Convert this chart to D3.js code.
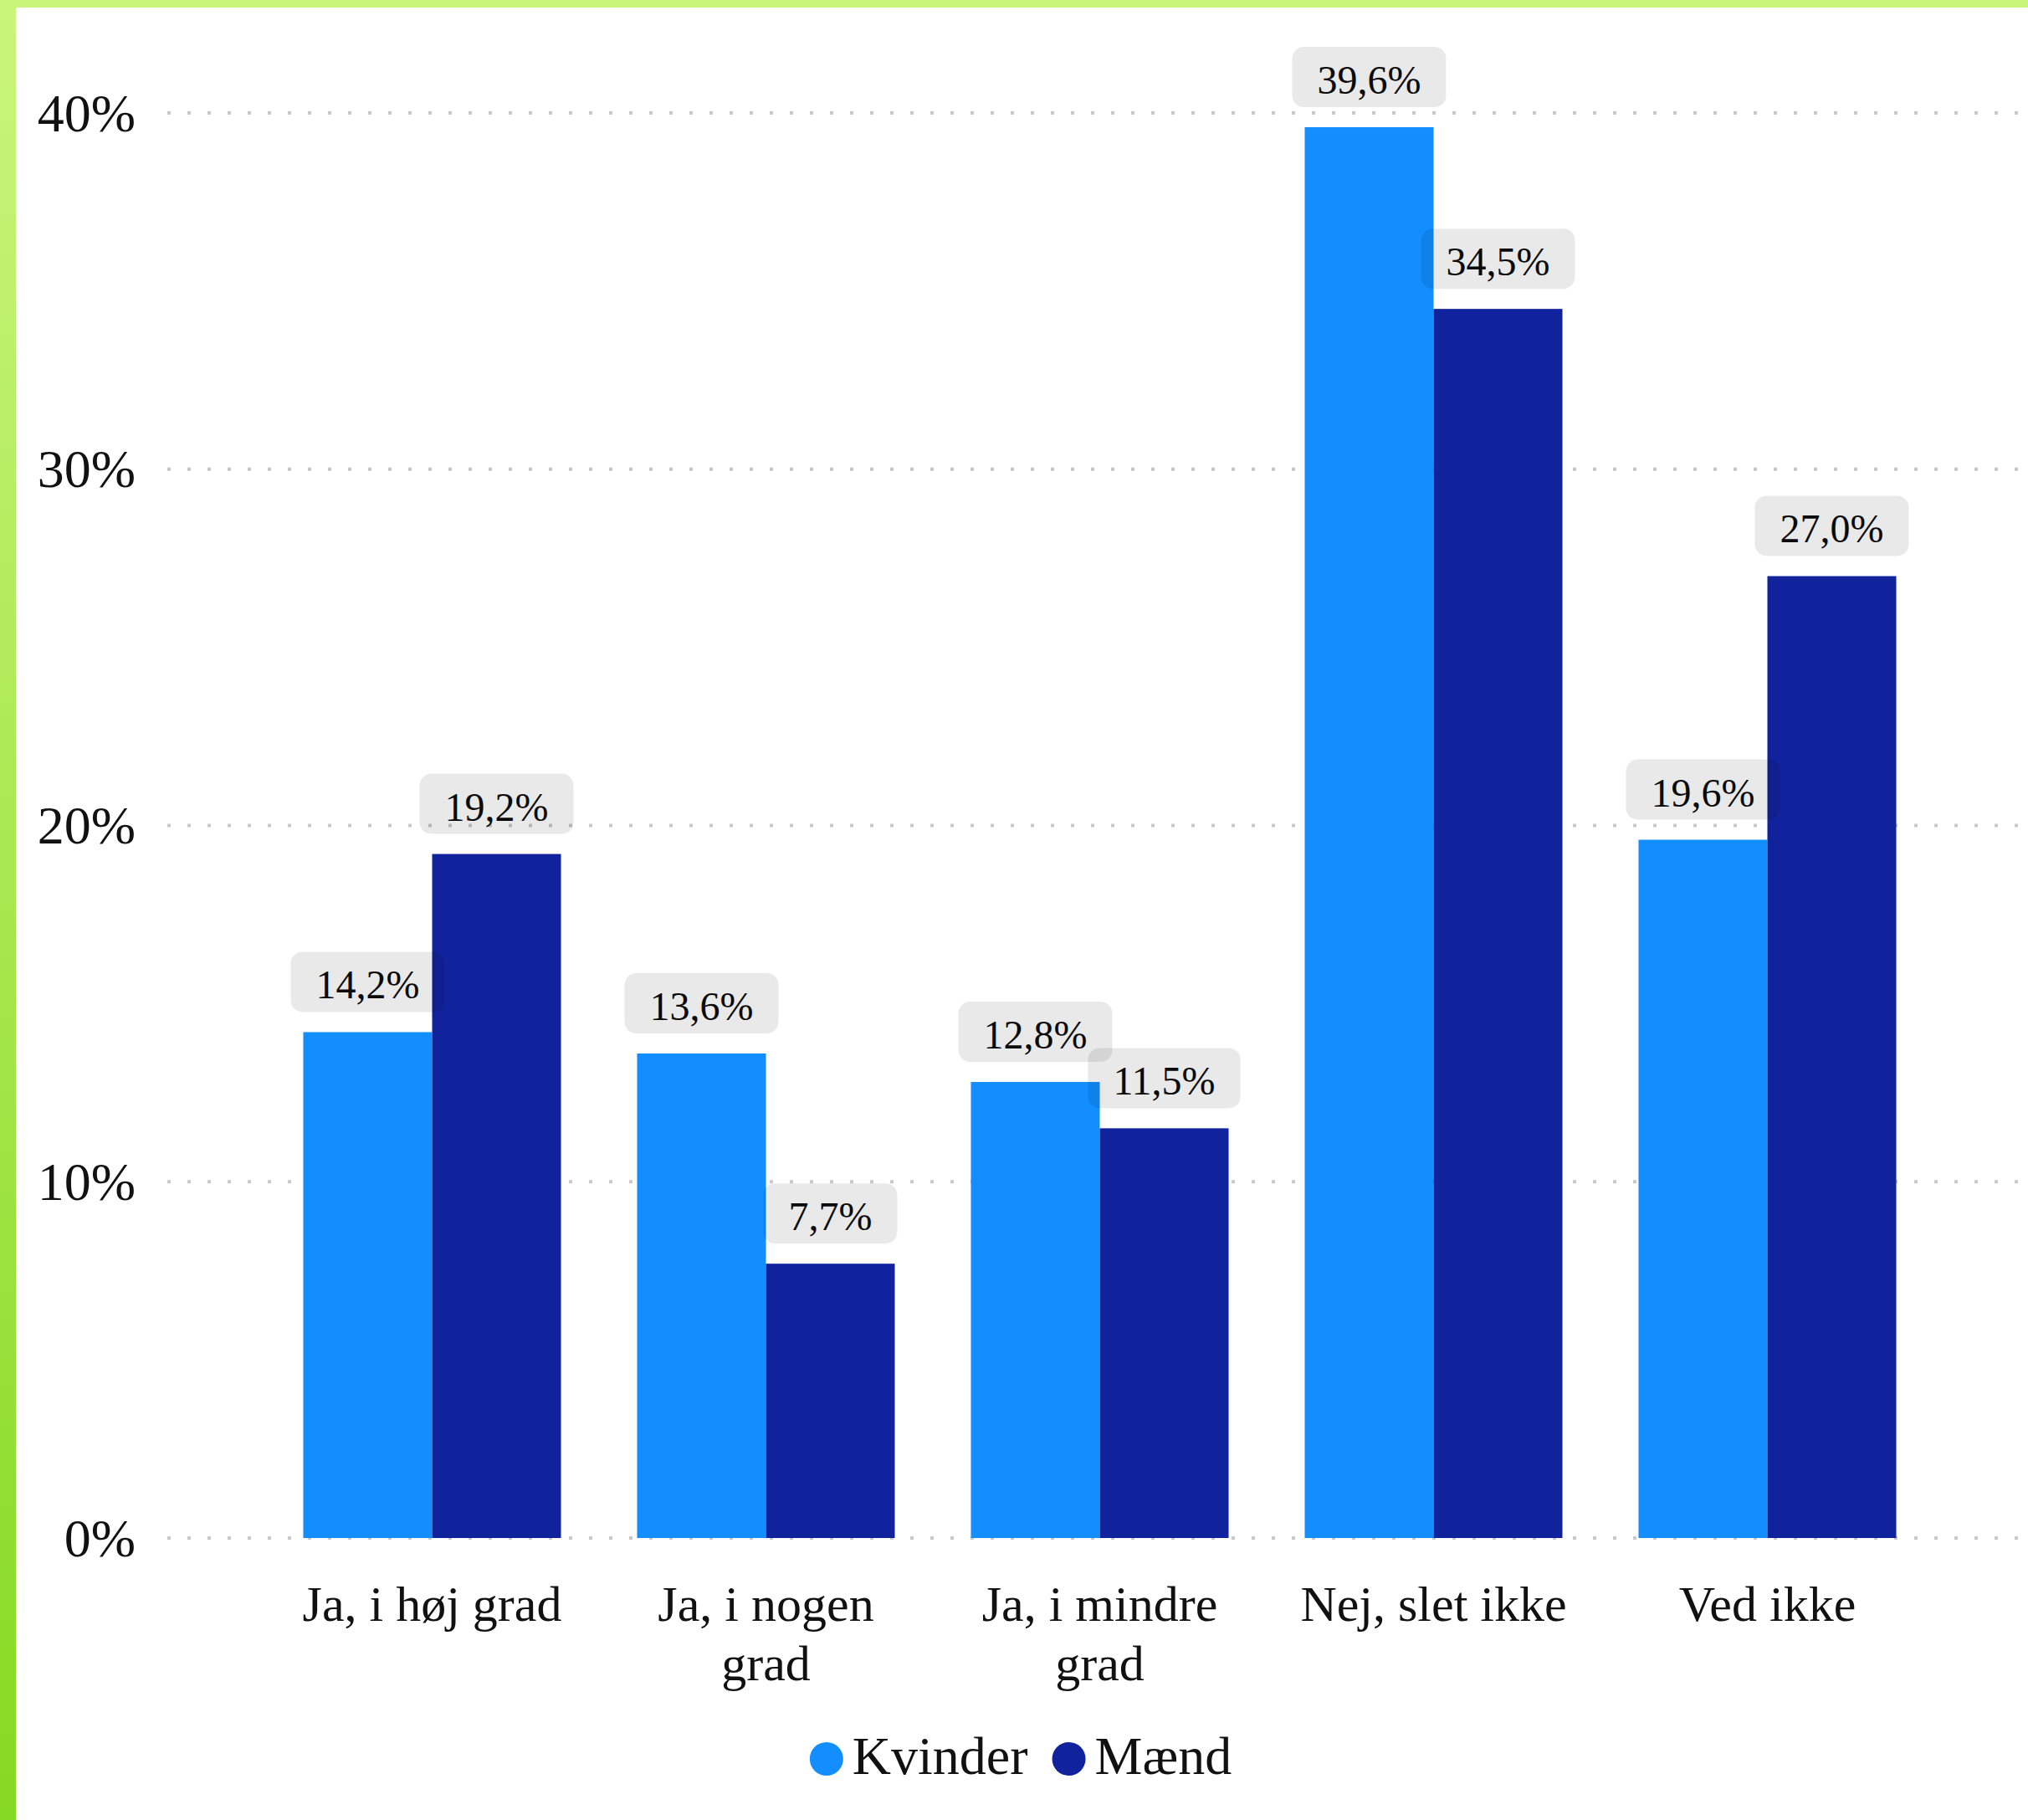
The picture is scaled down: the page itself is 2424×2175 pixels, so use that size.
<!DOCTYPE html>
<html>
<head>
<meta charset="utf-8">
<script src="https://cdn.jsdelivr.net/npm/d3@7"></script>
<style>
  html, body { margin: 0; padding: 0; background: #fff; }
  svg { display: block; font-family: "Liberation Serif", "DejaVu Serif", serif; }
</style>
</head>
<body>
<svg id="chart" width="2424" height="2175"></svg>
<script>
const categories = ["Ja, i høj grad", "Ja, i nogen grad", "Ja, i mindre grad", "Nej, slet ikke", "Ved ikke"];
const seriesNames = ["Kvinder", "Mænd"];
const kvinder = [14.2, 13.6, 12.8, 39.6, 19.6];
const maend = [19.2, 7.7, 11.5, 34.5, 27.0];
const yTicks = [0, 10, 20, 30, 40];
const colors = ["#128efe", "#11239c"];

const W = 2424, H = 2175;
const svg = d3.select("#chart");

// background gradient frame
const defs = svg.append("defs");
const grad = defs.append("linearGradient").attr("id", "frame")
  .attr("x1", 0).attr("y1", 0).attr("x2", 0).attr("y2", 1);
grad.append("stop").attr("offset", "0%").attr("stop-color", "#c9f57b");
grad.append("stop").attr("offset", "100%").attr("stop-color", "#86d922");
svg.append("rect").attr("x", 0).attr("y", 0).attr("width", W).attr("height", H).attr("fill", "url(#frame)");
svg.append("rect").attr("x", 19).attr("y", 9).attr("width", W - 19).attr("height", H - 9).attr("fill", "#fff");

const x0 = d3.scaleBand().domain(categories).range([317, 2312]).paddingInner(0.228).paddingOuter(0.114);
const x1 = d3.scaleBand().domain(seriesNames).range([0, x0.bandwidth()]);
const y = d3.scaleLinear().domain([0, 40]).range([1838, 135]);

// gridlines
const grid = svg.append("g");
grid.selectAll("line").data(yTicks).join("line")
  .attr("x1", 200).attr("x2", W)
  .attr("y1", d => y(d)).attr("y2", d => y(d))
  .attr("stroke", "#c8c8c8").attr("stroke-width", 4)
  .attr("stroke-dasharray", "4,20");

// y axis labels
const yAxis = d3.axisLeft(y).tickValues(yTicks).tickFormat(d => d + "%").tickSize(0).tickPadding(0);
const yg = svg.append("g").attr("transform", "translate(162,0)").call(yAxis);
yg.select(".domain").remove();
yg.selectAll("text").attr("font-size", 64).attr("fill", "#111")
  .attr("font-family", "Liberation Serif, serif").attr("dy", "0.33em");

// bars
const data = categories.map((c, i) => ({ cat: c, vals: [
  { s: seriesNames[0], v: kvinder[i] }, { s: seriesNames[1], v: maend[i] }] }));

const groups = svg.append("g").selectAll("g").data(data).join("g")
  .attr("transform", d => `translate(${x0(d.cat)},0)`);
groups.selectAll("rect").data(d => d.vals).join("rect")
  .attr("x", d => x1(d.s)).attr("width", x1.bandwidth())
  .attr("y", d => y(d.v)).attr("height", d => y(0) - y(d.v))
  .attr("fill", (d, i) => colors[i]);

// value labels
const fmt = v => v.toFixed(1).replace(".", ",") + "%";
const labelLayer = svg.append("g");
data.forEach(d => {
  d.vals.forEach((p, i) => {
    const cx = x0(d.cat) + x1(p.s) + x1.bandwidth() / 2;
    const boxBottom = y(p.v) - 24;
    const g = labelLayer.append("g");
    const t = g.append("text").text(fmt(p.v))
      .attr("x", cx).attr("y", boxBottom - 16)
      .attr("text-anchor", "middle").attr("font-size", 48).attr("fill", "#0a0a0a");
    const w = t.node().getComputedTextLength() + 60;
    g.insert("rect", "text")
      .attr("x", cx - w / 2).attr("y", boxBottom - 72)
      .attr("width", w).attr("height", 72).attr("rx", 14)
      .attr("fill", "rgba(0,0,0,0.088)");
  });
});

// x axis labels
const xAxis = d3.axisBottom(x0).tickSize(0).tickPadding(0);
const xg = svg.append("g").attr("transform", "translate(0,1937)").call(xAxis);
xg.select(".domain").remove();
xg.selectAll("text").attr("font-size", 60).attr("fill", "#111")
  .attr("font-family", "Liberation Serif, serif").attr("dy", 0).attr("y", 0)
  .each(function() {
    const text = d3.select(this);
    const words = text.text().split(/\s+/);
    text.text(null);
    let line = [];
    let tspan = text.append("tspan").attr("x", 0).attr("dy", 0);
    words.forEach(w => {
      line.push(w);
      tspan.text(line.join(" "));
      if (tspan.node().getComputedTextLength() > 350 && line.length > 1) {
        line.pop();
        tspan.text(line.join(" "));
        line = [w];
        tspan = text.append("tspan").attr("x", 0).attr("dy", 71).text(w);
      }
    });
  });

// legend
const legend = svg.append("g");
let lx = 0;
seriesNames.forEach((s, i) => {
  const g = legend.append("g");
  g.append("circle").attr("cx", lx + 20).attr("cy", 2102).attr("r", 20).attr("fill", colors[i]);
  const t = g.append("text").text(s).attr("x", lx + 51).attr("y", 2120)
    .attr("font-size", 64).attr("fill", "#111");
  lx += 51 + t.node().getComputedTextLength() + 29;
});
const totalW = lx - 29;
legend.attr("transform", `translate(${1220 - totalW / 2},0)`);
</script>
</body>
</html>
